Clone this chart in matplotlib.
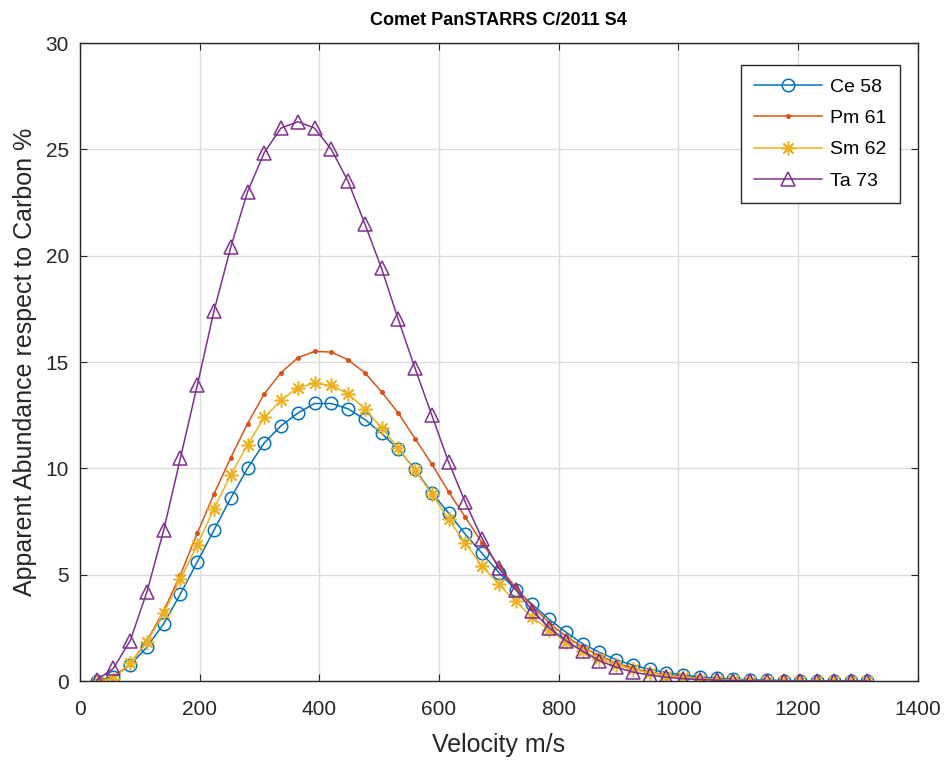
import matplotlib
matplotlib.use("Agg")
import matplotlib.pyplot as plt

plt.rcParams["font.family"] = ["Liberation Sans", "DejaVu Sans"]

velocity = [28 * k for k in range(1, 48)]

ce58 = [0.0, 0.2, 0.75, 1.6, 2.7, 4.1, 5.6, 7.1, 8.6, 10.0,
        11.2, 12.0, 12.6, 13.05, 13.05, 12.8, 12.3, 11.65, 10.9, 9.95,
        8.85, 7.9, 6.9, 6.0, 5.1, 4.3, 3.6, 2.9, 2.3, 1.75,
        1.35, 1.0, 0.75, 0.55, 0.4, 0.28, 0.19, 0.13, 0.09, 0.06,
        0.04, 0.02, 0.01, 0.01, 0.0, 0.0, 0.0]
pm61 = [0.0, 0.2, 0.8, 1.9, 3.3, 5.0, 6.95, 8.8, 10.5, 12.1,
        13.5, 14.5, 15.2, 15.5, 15.47, 15.1, 14.5, 13.6, 12.6, 11.4,
        10.2, 8.9, 7.7, 6.5, 5.4, 4.4, 3.5, 2.75, 2.1, 1.6,
        1.2, 0.85, 0.6, 0.42, 0.29, 0.2, 0.13, 0.08, 0.05, 0.03,
        0.02, 0.01, 0.0, 0.0, 0.0, 0.0, 0.0]
sm62 = [0.0, 0.1, 0.85, 1.85, 3.2, 4.8, 6.4, 8.1, 9.7, 11.1,
        12.4, 13.2, 13.8, 14.0, 13.9, 13.5, 12.8, 11.9, 10.95, 9.9,
        8.8, 7.6, 6.5, 5.4, 4.55, 3.75, 3.0, 2.4, 1.85, 1.4,
        1.05, 0.75, 0.55, 0.38, 0.26, 0.17, 0.11, 0.07, 0.04, 0.02,
        0.01, 0.0, 0.0, 0.0, 0.0, 0.0, 0.0]
ta73 = [0.05, 0.6, 1.9, 4.2, 7.1, 10.5, 13.9, 17.4, 20.4, 23.0,
        24.85, 26.0, 26.3, 26.0, 25.0, 23.5, 21.5, 19.4, 17.0, 14.7,
        12.5, 10.3, 8.4, 6.7, 5.3, 4.3, 3.3, 2.5, 1.9, 1.4,
        0.95, 0.65, 0.42, 0.28, 0.18, 0.11, 0.07, 0.04, 0.02, 0.01,
        0.0, 0.0, 0.0, 0.0, 0.0, 0.0, 0.0]

series = [
    ("Ce 58", ce58, "#0072BD", "o", 9),
    ("Pm 61", pm61, "#D95319", ".", 5),
    ("Sm 62", sm62, "#EDB120", (8, 2, 0), 10),
    ("Ta 73", ta73, "#7E2F8E", "^", 10),
]

fig = plt.figure(figsize=(9.52, 7.64), dpi=100)
ax = fig.add_axes([0.084, 0.1086, 0.88, 0.8351])

for label, vals, color, marker, ms in series:
    ax.plot(velocity, vals, color=color, marker=marker, markersize=ms,
            markerfacecolor="none" if marker != "." else color,
            markeredgewidth=1.1, linewidth=1.1, label=label)

ax.set_xlim(0, 1400)
ax.set_ylim(0, 30)
ax.set_xticks(range(0, 1401, 200))
ax.set_yticks(range(0, 31, 5))
ax.grid(True, color="#dcdcdc", linewidth=1.0)
ax.set_axisbelow(True)
ax.tick_params(direction="in", top=True, right=True, labelsize=15,
               colors="#262626", length=5)
ax.tick_params(axis="x", pad=14)
ax.tick_params(axis="y", pad=8)
for s in ax.spines.values():
    s.set_color("#262626")
    s.set_linewidth(1.0)

ax.set_xlabel("Velocity m/s", fontsize=18, color="#262626", labelpad=10)
ax.set_ylabel("Apparent Abundance respect to Carbon %", fontsize=18,
              color="#262626", labelpad=6)
ax.set_title("Comet PanSTARRS C/2011 S4", fontsize=13, fontweight="bold", pad=13)

leg = ax.legend(loc="upper right", bbox_to_anchor=(0.979, 0.966), fontsize=14,
                fancybox=False, framealpha=1, edgecolor="#262626",
                handlelength=3.5, handletextpad=0.4, borderpad=0.7,
                labelspacing=0.7, borderaxespad=0)
leg.get_frame().set_linewidth(1.0)

fig.savefig("out.png", dpi=100, facecolor="white")
